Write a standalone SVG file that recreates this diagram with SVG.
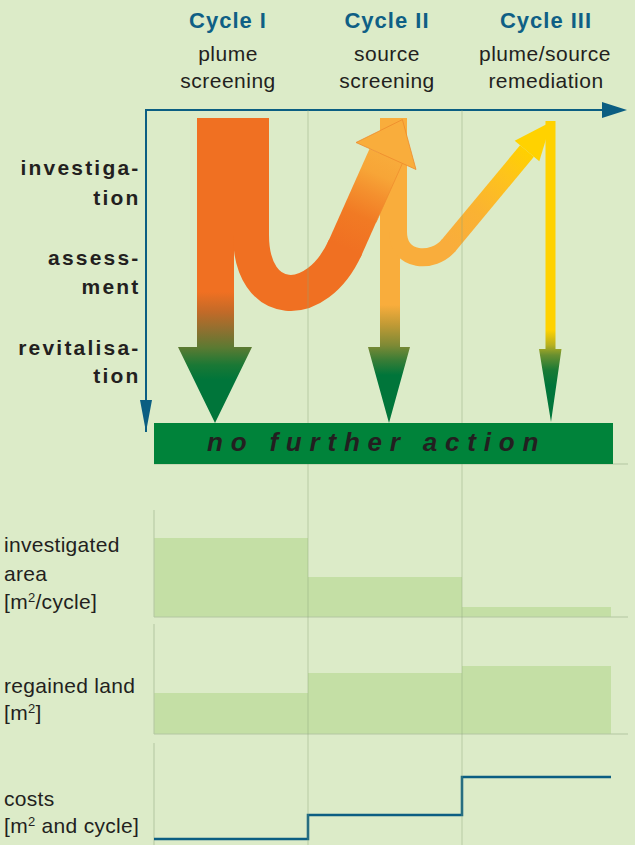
<svg xmlns="http://www.w3.org/2000/svg" width="635" height="845" viewBox="0 0 635 845">
<style>
.ax{stroke:#0b5e82;stroke-width:2;fill:none}
.axh{fill:#0b5e82}
.dv{stroke:#8aa37a;stroke-opacity:.45;stroke-width:1;fill:none}
.bl{stroke:#b3c6a1;stroke-width:1;fill:none}
.bar{fill:#c4dfa5}
.tt{font-family:'Liberation Sans',Arial,sans-serif;font-weight:bold;font-size:22px;fill:#0f5f85;text-anchor:middle;letter-spacing:1px}
.ts{font-family:'Liberation Sans',Arial,sans-serif;font-size:21px;fill:#231f20;text-anchor:middle;letter-spacing:.5px}
.tg{font-family:'Liberation Sans',Arial,sans-serif;font-weight:bold;font-size:21px;fill:#231f20;text-anchor:end;letter-spacing:2.2px}
.tl{font-family:'Liberation Sans',Arial,sans-serif;font-size:21px;fill:#231f20;letter-spacing:.3px}
.sup{font-size:13px}
</style>
<defs>
<linearGradient id="g1" gradientUnits="userSpaceOnUse" x1="0" y1="0" x2="0" y2="845">
<stop offset=".3455" stop-color="#f07022"/><stop offset=".3692" stop-color="#c26a28"/><stop offset=".3905" stop-color="#8f7030"/><stop offset=".4118" stop-color="#5a7a32"/><stop offset=".4320" stop-color="#1a7835"/><stop offset=".4497" stop-color="#00753a"/>
</linearGradient>
<linearGradient id="g2" gradientUnits="userSpaceOnUse" x1="0" y1="0" x2="0" y2="845">
<stop offset=".3609" stop-color="#f9ad3c"/><stop offset=".3846" stop-color="#c09a35"/><stop offset=".4083" stop-color="#7f8a35"/><stop offset=".4260" stop-color="#3a7d36"/><stop offset=".4438" stop-color="#00753a"/>
</linearGradient>
<linearGradient id="g3" gradientUnits="userSpaceOnUse" x1="0" y1="0" x2="0" y2="845">
<stop offset=".3905" stop-color="#ffd200"/><stop offset=".4083" stop-color="#b8b020"/><stop offset=".4201" stop-color="#6a9030"/><stop offset=".4379" stop-color="#1a7a35"/><stop offset=".4556" stop-color="#00753a"/>
</linearGradient>
<linearGradient id="s1" gradientUnits="userSpaceOnUse" x1="345" y1="248" x2="386" y2="156">
<stop offset="0" stop-color="#f07022"/><stop offset=".35" stop-color="#f17a24"/><stop offset=".6" stop-color="#f4902e"/><stop offset=".8" stop-color="#f7a537"/><stop offset="1" stop-color="#f8ab3b"/>
</linearGradient>
<linearGradient id="s2" gradientUnits="userSpaceOnUse" x1="449" y1="245" x2="527" y2="151">
<stop offset="0" stop-color="#f9ad3c"/><stop offset=".35" stop-color="#fab233"/><stop offset=".75" stop-color="#fec41a"/><stop offset="1" stop-color="#ffd000"/>
</linearGradient>
</defs>
<rect x="0" y="0" width="635" height="845" fill="#dcebc8"/>

<g id="panels">
<rect class="bar" x="154" y="538" width="154" height="79"/>
<rect class="bar" x="308" y="577" width="154" height="40"/>
<rect class="bar" x="462" y="607" width="149" height="10"/>
<rect class="bar" x="154" y="693" width="154" height="41"/>
<rect class="bar" x="308" y="673" width="154" height="61"/>
<rect class="bar" x="462" y="666" width="149" height="68"/>
<path class="bl" d="M154,510V617H628M154,624V734H628M154,743V845M154,464H628"/>
<polyline points="154,839 308,839 308,815 462,815 462,777 611,777" fill="none" stroke="#0b5e82" stroke-width="2.5"/>
</g>

<g id="axes">
<path class="ax" d="M146,432V110H606"/>
<polygon class="axh" points="602,102 627,110 602,118"/>
<polygon class="axh" points="140,400 152,400 146,432"/>
</g>

<g id="arrow-cycle3">
<path d="M545.5,121H555.5V349H561.5L551,422L539,349H545.5Z" fill="url(#g3)"/>
</g>

<g id="arrow-cycle2">
<path d="M380,118H400V347H410L389,423L368,347H380Z" fill="url(#g2)"/>
<path d="M398,118V232C398,262 433,264 449,245" fill="none" stroke="#f9ad3c" stroke-width="18"/>
<path d="M447.7,246.5L527,151" fill="none" stroke="url(#s2)" stroke-width="18"/>
<polygon points="514.7,140.8 551.3,121.7 539.3,161.2" fill="#ffd200"/>
</g>

<g id="arrow-cycle1">
<path d="M197,118H234V347H252L215,423L178,347H197Z" fill="url(#g1)"/>
<path d="M251,118V235C251,308 316,312 345.5,247" fill="none" stroke="#f07022" stroke-width="36"/>
<path d="M344,250.3L386,156" fill="none" stroke="url(#s1)" stroke-width="36"/>
<path d="M402.4,163.4L376,222.5" stroke="#ee8a2c" stroke-width=".7" fill="none"/>
<polygon points="356,142.5 402.4,119.6 416,169.5" fill="#f9ad3c" stroke="#ee8a2c" stroke-width=".8"/>
</g>

<g id="dividers">
<path class="dv" d="M308,110V845M462,110V845"/>
</g>

<g id="no-further-action">
<rect x="154" y="423" width="459" height="41" fill="#00833a"/>
<text x="207" y="451" font-family="'Liberation Sans',Arial,sans-serif" font-weight="bold" font-style="italic" font-size="26" letter-spacing="7.8" fill="#231f20">no further action</text>
</g>

<g id="cycle1-header">
<text class="tt" x="228" y="28">Cycle I</text>
<text class="ts" x="228" y="61">plume</text>
<text class="ts" x="228" y="88">screening</text>
</g>
<g id="cycle2-header">
<text class="tt" x="387" y="28">Cycle II</text>
<text class="ts" x="387" y="61">source</text>
<text class="ts" x="387" y="88">screening</text>
</g>
<g id="cycle3-header">
<text class="tt" x="546" y="28">Cycle III</text>
<text class="ts" x="545" y="61">plume/source</text>
<text class="ts" x="546" y="88">remediation</text>
</g>

<g id="stage-labels">
<text class="tg" x="140.5" y="175">investiga-</text>
<text class="tg" x="140.5" y="205">tion</text>
<text class="tg" x="140.5" y="265">assess-</text>
<text class="tg" x="140.5" y="294">ment</text>
<text class="tg" x="140.5" y="355">revitalisa-</text>
<text class="tg" x="140.5" y="383">tion</text>
</g>

<g id="panel-labels">
<text class="tl" x="4" y="552">investigated</text>
<text class="tl" x="4" y="581">area</text>
<text class="tl" x="4" y="609">[m<tspan class="sup" dy="-7">2</tspan><tspan dy="7">/cycle]</tspan></text>
<text class="tl" x="4" y="693">regained land</text>
<text class="tl" x="4" y="720">[m<tspan class="sup" dy="-7">2</tspan><tspan dy="7">]</tspan></text>
<text class="tl" x="4" y="806">costs</text>
<text class="tl" x="4" y="833">[m<tspan class="sup" dy="-7">2</tspan><tspan dy="7"> and cycle]</tspan></text>
</g>
</svg>
